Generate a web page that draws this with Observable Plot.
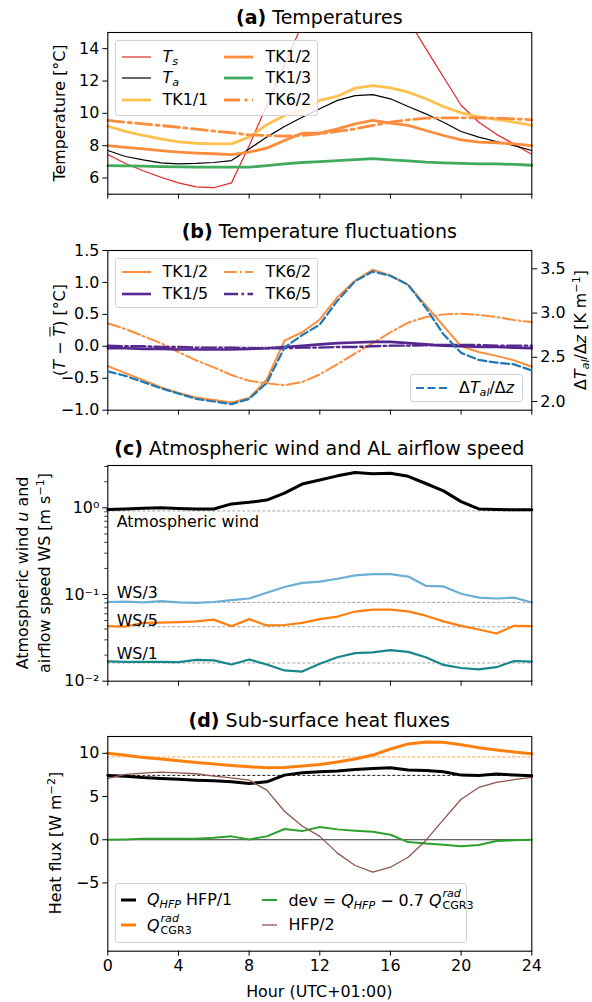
<!DOCTYPE html>
<html><head><meta charset="utf-8">
<script src="https://cdn.jsdelivr.net/npm/d3@7"></script>
<script src="https://cdn.jsdelivr.net/npm/@observablehq/plot@0.6"></script>
<style>
body{margin:0;background:#fff;}
#fig{position:relative;width:592px;height:1002px;font-family:"DejaVu Sans",sans-serif;color:#000;overflow:hidden;background:#fff;}
.abs{position:absolute;}
.title{position:absolute;font-size:19px;white-space:nowrap;transform:translate(-50%,-50%);line-height:1.2;}
.ylab{position:absolute;font-size:15.9px;white-space:nowrap;transform:translate(-50%,-50%) rotate(-90deg);line-height:1.2;}
.xlab{position:absolute;font-size:15.9px;white-space:nowrap;transform:translate(-50%,-50%);line-height:1.2;}
.legend{position:absolute;border:1px solid #d3d3d3;border-radius:3px;background:rgba(255,255,255,0.8);box-sizing:border-box;}
.item{position:absolute;font-size:15.9px;white-space:nowrap;transform:translateY(-50%);line-height:1.2;}
sub{font-size:70%;vertical-align:-0.25em;line-height:0;}
sup{font-size:70%;vertical-align:0.55em;line-height:0;}
.ss{display:inline-block;vertical-align:-0.28em;font-size:70%;line-height:1.05;margin-left:1px;}
.ss span{display:block;}
.bar{text-decoration:overline;}
</style>
</head><body><div id="fig"></div>
<script>
// ---------------- data ----------------
const hours = [0,1,2,3,4,5,6,7,8,9,10,11,12,13,14,15,16,17,18,19,20,21,22,23,24];
const xTicks = [0,4,8,12,16,20,24];

// (a) Temperatures [°C]
const Ts    = [7.45,6.9,6.45,6.05,5.7,5.45,5.4,5.7,8.0,10.5,13.0,15.5,18.0,20.0,21.0,20.5,18.5,15.8,14.0,12.25,10.5,9.45,8.7,8.1,7.45];
const Ta    = [7.7,7.33,7.12,6.94,6.88,6.9,6.96,7.08,7.8,8.53,9.19,9.76,10.28,10.8,11.1,11.16,10.9,10.42,9.97,9.45,8.88,8.53,8.26,8.0,7.7];
const TK1_1 = [9.2,8.88,8.63,8.42,8.24,8.15,8.11,8.11,8.53,9.3,9.87,10.17,10.8,11.06,11.56,11.72,11.58,11.31,10.9,10.42,10.03,9.78,9.62,9.45,9.25];
const TK1_2 = [8.0,7.9,7.8,7.7,7.6,7.54,7.5,7.45,7.6,7.85,8.32,8.77,8.77,9.04,9.35,9.56,9.39,9.25,8.94,8.63,8.36,8.22,8.18,8.11,8.0];
const TK1_3 = [6.77,6.75,6.73,6.71,6.69,6.67,6.67,6.67,6.67,6.77,6.88,6.96,7.02,7.08,7.14,7.2,7.12,7.06,6.98,6.94,6.9,6.88,6.88,6.84,6.79];
const TK6_2 = [9.56,9.45,9.35,9.25,9.14,9.02,8.9,8.8,8.67,8.63,8.59,8.63,8.73,8.88,9.04,9.25,9.45,9.6,9.7,9.72,9.72,9.72,9.7,9.66,9.6];
const yTicksA = [6,8,10,12,14];

// (b) Temperature fluctuations [°C] and gradient [K m-1]
const fTK1_2 = [-0.31,-0.42,-0.53,-0.64,-0.73,-0.80,-0.84,-0.88,-0.81,-0.52,0.09,0.22,0.42,0.77,1.03,1.2,1.11,0.96,0.64,0.32,0.0,-0.09,-0.15,-0.22,-0.32];
const fTK6_2 = [0.36,0.27,0.16,0.05,-0.09,-0.22,-0.33,-0.45,-0.54,-0.58,-0.61,-0.56,-0.44,-0.28,-0.11,0.05,0.22,0.37,0.46,0.5,0.51,0.49,0.46,0.41,0.38];
const fTK1_5 = [-0.03,-0.03,-0.04,-0.04,-0.05,-0.05,-0.05,-0.05,-0.04,-0.03,-0.01,0.01,0.03,0.05,0.06,0.07,0.07,0.05,0.03,0.01,0.0,-0.01,-0.01,-0.02,-0.03];
const fTK6_5 = [0.01,0.0,0.0,-0.01,-0.01,-0.02,-0.02,-0.02,-0.03,-0.03,-0.03,-0.02,-0.02,-0.01,-0.01,0.0,0.01,0.01,0.02,0.02,0.02,0.02,0.01,0.01,0.01];
const dTdz   = [2.34,2.29,2.22,2.15,2.09,2.03,2.00,1.97,2.03,2.21,2.61,2.75,2.87,3.14,3.36,3.47,3.42,3.32,3.06,2.76,2.55,2.47,2.44,2.42,2.35];
const yTicksB = [-1.0,-0.5,0.0,0.5,1.0,1.5];
const yTicksB2 = [2.0,2.5,3.0,3.5];

// (c) Wind and airflow speed [m s-1]
const wind = [0.96,0.97,0.99,1.0,0.98,0.97,0.97,1.11,1.16,1.23,1.48,1.88,2.1,2.34,2.56,2.47,2.5,2.31,1.91,1.57,1.18,0.97,0.96,0.95,0.95];
const WS3  = [0.082,0.083,0.081,0.084,0.081,0.080,0.082,0.086,0.090,0.105,0.122,0.136,0.141,0.152,0.166,0.172,0.172,0.161,0.126,0.124,0.102,0.092,0.090,0.092,0.081];
const WS5  = [0.0431,0.0427,0.047,0.0475,0.048,0.049,0.0513,0.0431,0.052,0.044,0.0445,0.047,0.052,0.0557,0.0636,0.067,0.067,0.064,0.057,0.049,0.0435,0.0395,0.0355,0.0435,0.0432];
const WS1  = [0.0169,0.0167,0.0167,0.0167,0.0166,0.0176,0.0174,0.0156,0.0178,0.0156,0.0133,0.0129,0.0159,0.0189,0.0211,0.0215,0.0228,0.0218,0.0189,0.0154,0.0142,0.0137,0.0145,0.0171,0.0168];
const refsC = [0.92,0.081,0.0425,0.0162];
const labelsC = ["Atmospheric wind","WS/3","WS/5","WS/1"];
const yTicksC = [0.01,0.1,1];
const yTickLabelsC = ["10\u207B\u00B2","10\u207B\u00B9","10\u2070"];
const yMinorC = [0.02,0.03,0.04,0.05,0.06,0.07,0.08,0.09,0.2,0.3,0.4,0.5,0.6,0.7,0.8,0.9,2,3];

// (d) Sub-surface heat fluxes [W m-2]
const QHFP = [7.44,7.36,7.2,7.09,7.0,6.9,6.82,6.7,6.5,6.7,7.48,7.75,7.87,7.95,8.14,8.26,8.33,8.06,8.02,7.87,7.48,7.44,7.6,7.5,7.4];
const Qrad = [10.0,9.77,9.53,9.34,9.15,8.95,8.76,8.6,8.45,8.33,8.36,8.53,8.72,8.99,9.34,9.8,10.5,11.09,11.32,11.28,11.0,10.66,10.4,10.15,9.95];
const dev  = [0.0,0.04,0.12,0.12,0.12,0.12,0.23,0.39,0.04,0.39,1.24,1.0,1.47,1.2,1.05,0.93,0.58,-0.27,-0.43,-0.58,-0.74,-0.62,-0.15,-0.05,0.0];
const HFP2 = [7.09,7.56,7.71,7.83,7.75,7.64,7.36,7.17,6.9,5.74,3.3,1.59,0.39,-1.55,-2.98,-3.76,-3.18,-2.02,-0.08,2.33,4.69,6.05,6.64,6.95,7.23];
const refQHFP = 7.45, refQrad = 9.6;
const yTicksD = [-5,0,5,10];

// ---------------- layout helpers ----------------
const fig = document.getElementById("fig");
const L = 107.3, R = 531.3, W = 592;
const baseStyle = {fontFamily:'"DejaVu Sans", sans-serif', fontSize:"15.9px", background:"transparent", overflow:"visible", color:"black"};
function mkPlot(frameTop, frameH, mb, opts, xopts = {}) {
  const mt = 20;
  const p = Plot.plot({width:W, height:mt+frameH+mb, marginLeft:L, marginRight:W-R, marginTop:mt, marginBottom:mb,
    style: baseStyle, x:{domain:[0,24], ...xopts}, ...opts});
  p.style.position = "absolute"; p.style.left = "0px"; p.style.top = (frameTop - mt) + "px";
  fig.appendChild(p);
  return p;
}
const xAxis = (show) => Plot.axisX({ticks:xTicks, tickSize:5, tickPadding:3.5, label:null, tickFormat: show ? (d => String(d)) : (() => "")});
const ln = (arr, o) => Plot.line(hours, {x:d => d, y:(d,i) => arr[i], ...o});
function html(s){ fig.insertAdjacentHTML("beforeend", s); }
function title(x, y, bold, rest){ html(`<div class="title" style="left:${x}px;top:${y}px"><b>${bold}</b> ${rest}</div>`); }
function ylab(x, y, s){ html(`<div class="ylab" style="left:${x}px;top:${y}px">${s}</div>`); }
function legend(box, items){
  html(`<div class="legend" style="left:${box[0]}px;top:${box[1]}px;width:${box[2]-box[0]}px;height:${box[3]-box[1]}px"></div>`);
  for (const it of items) {
    html(`<svg class="abs" style="left:${it.hx}px;top:${it.y-6}px;overflow:visible" width="${it.len}" height="12"><line x1="0" y1="6" x2="${it.len}" y2="6" stroke="${it.c}" stroke-width="${it.sw}" ${it.dash ? `stroke-dasharray="${it.dash}"` : ""}/></svg>`);
    html(`<div class="item" style="left:${it.lx}px;top:${it.y}px">${it.label}</div>`);
  }
}
const C = {Ts:"#e3262a", Ta:"#000", tk11:"#fec04e", tk12:"#fd8d3c", tk13:"#41ab5d", purple:"#55288f", blue:"#1f77b4",
  ws3:"#6baed6", ws5:"#ff7f0e", ws1:"#17878c", qrad:"#ff7f0e", green:"#2ca02c", brown:"#8c564b"};
const DASHA = "16,4.5,3,4.5", DASHB = "12.8,3.2,2,3.2", DASHP = "14,3.5,2.5,3.5", DASHBLUE = "8,3.5";

// ---------------- (a) ----------------
mkPlot(32.3, 161.7, 10, {
  y:{domain:[5,15]},
  marks:[
    ln(Ts, {stroke:C.Ts, strokeWidth:1.2, clip:true}),
    ln(Ta, {stroke:C.Ta, strokeWidth:1.2}),
    ln(TK1_1, {stroke:C.tk11, strokeWidth:2.8}),
    ln(TK1_2, {stroke:C.tk12, strokeWidth:2.8}),
    ln(TK1_3, {stroke:C.tk13, strokeWidth:2.8}),
    ln(TK6_2, {stroke:C.tk12, strokeWidth:2.8, strokeDasharray:DASHA}),
    Plot.axisY({ticks:yTicksA, tickSize:5, tickPadding:3.5, label:null, tickFormat:d => String(d)}),
    xAxis(false),
    Plot.frame({stroke:"black", strokeWidth:1.1})
  ]
});
title(319.3, 16.7, "(a)", "Temperatures");
ylab(60, 113, "Temperature [°C]");
legend([115.3, 40.3, 318, 116.3], [
  {hx:121.7, len:29, y:56.5, c:C.Ts, sw:1.2, lx:162.5, label:"<i>T<sub>s</sub></i>"},
  {hx:121.7, len:29, y:78.3, c:C.Ta, sw:1.2, lx:162.5, label:"<i>T<sub>a</sub></i>"},
  {hx:121.7, len:29, y:100.1, c:C.tk11, sw:2.8, lx:162.5, label:"TK1/1"},
  {hx:224, len:29, y:56.5, c:C.tk12, sw:2.8, lx:265.5, label:"TK1/2"},
  {hx:224, len:29, y:78.3, c:C.tk13, sw:2.8, lx:265.5, label:"TK1/3"},
  {hx:224, len:29, y:100.1, c:C.tk12, sw:2.8, dash:DASHA, lx:265.5, label:"TK6/2"}
]);

// ---------------- (b) ----------------
mkPlot(250, 159.7, 10, {
  y:{domain:[-1,1.5]},
  marks:[
    Plot.ruleY([0], {stroke:"#aaa", strokeWidth:1, strokeDasharray:"1.5,2"}),
    ln(fTK1_2, {stroke:C.tk12, strokeWidth:2}),
    ln(fTK6_2, {stroke:C.tk12, strokeWidth:2, strokeDasharray:DASHB}),
    ln(fTK1_5, {stroke:C.purple, strokeWidth:2.6}),
    ln(fTK6_5, {stroke:C.purple, strokeWidth:2.4, strokeDasharray:DASHP}),
    Plot.axisY({ticks:yTicksB, tickSize:5, tickPadding:3.5, label:null, tickFormat:d3.format(".1f")}),
    xAxis(false),
    Plot.frame({stroke:"black", strokeWidth:1.1})
  ]
});
mkPlot(250, 159.7, 10, {
  y:{domain:[1.902,3.707]},
  marks:[
    ln(dTdz, {stroke:C.blue, strokeWidth:2.2, strokeDasharray:DASHBLUE}),
    Plot.axisY({anchor:"right", ticks:yTicksB2, tickSize:5, tickPadding:3.5, label:null, tickFormat:d3.format(".1f")})
  ]
}, {axis:null});
title(319.3, 230.7, "(b)", "Temperature fluctuations");
ylab(60, 330, "(<i>T</i> − <i class=\"bar\">T</i>) [°C]");
ylab(581, 330, "Δ<i>T<sub>al</sub></i>/Δ<i>z</i> [K m<sup>−1</sup>]");
legend([115.3, 258, 318, 308], [
  {hx:121.7, len:29, y:271.5, c:C.tk12, sw:2, lx:162.5, label:"TK1/2"},
  {hx:121.7, len:29, y:294, c:C.purple, sw:2.6, lx:162.5, label:"TK1/5"},
  {hx:224, len:29, y:271.5, c:C.tk12, sw:2, dash:DASHB, lx:265.5, label:"TK6/2"},
  {hx:224, len:29, y:294, c:C.purple, sw:2.4, dash:DASHP, lx:265.5, label:"TK6/5"}
]);
legend([410, 374, 523.3, 401.7], [
  {hx:415.5, len:31, y:387.9, c:C.blue, sw:2.2, dash:DASHBLUE, lx:459, label:"Δ<i>T<sub>al</sub></i>/Δ<i>z</i>"}
]);

// ---------------- (c) ----------------
const labelDy = [11, -9.5, -5.5, -9.5];
mkPlot(465, 215.7, 10, {
  y:{type:"log", domain:[0.01,3.08]},
  marks:[
    Plot.ruleY(refsC, {stroke:"#999", strokeWidth:0.9, strokeDasharray:"3,2"}),
    ln(wind, {stroke:"#000", strokeWidth:3}),
    ln(WS3, {stroke:C.ws3, strokeWidth:2.2}),
    ln(WS5, {stroke:C.ws5, strokeWidth:2.2}),
    ln(WS1, {stroke:C.ws1, strokeWidth:2.2}),
    ...labelsC.map((t, i) => Plot.text([t], {x:() => 0.5, y:() => refsC[i], text:d => d, textAnchor:"start", dy:labelDy[i], fontSize:15.9, fill:"black"})),
    Plot.axisY({ticks:yTicksC, tickSize:5, tickPadding:3.5, label:null, tickFormat:d => yTickLabelsC[yTicksC.indexOf(d)]}),
    Plot.axisY({ticks:yMinorC, tickSize:3, label:null, strokeWidth:0.8, tickFormat:() => ""}),
    xAxis(false),
    Plot.frame({stroke:"black", strokeWidth:1.1})
  ]
});
title(319.3, 448.3, "(c)", "Atmospheric wind and AL airflow speed");
ylab(22.5, 573, "Atmospheric wind <i>u</i> and");
ylab(45, 573, "airflow speed WS [m s<sup>−1</sup>]");

// ---------------- (d) ----------------
mkPlot(736, 214.7, 40, {
  y:{domain:[-12.9,11.95]},
  marks:[
    Plot.ruleY([0], {stroke:"#333", strokeWidth:1}),
    Plot.ruleY([refQHFP], {stroke:"#000", strokeWidth:0.9, strokeDasharray:"3,2"}),
    Plot.ruleY([refQrad], {stroke:"#ffb46e", strokeWidth:1.2, strokeDasharray:"3,2"}),
    ln(QHFP, {stroke:"#000", strokeWidth:3}),
    ln(Qrad, {stroke:C.qrad, strokeWidth:3}),
    ln(dev, {stroke:C.green, strokeWidth:2}),
    ln(HFP2, {stroke:C.brown, strokeWidth:1.3}),
    Plot.axisY({ticks:yTicksD, tickSize:5, tickPadding:3.5, label:null, tickFormat:d3.format("d")}),
    xAxis(true),
    Plot.frame({stroke:"black", strokeWidth:1.1})
  ]
});
title(319.3, 720, "(d)", "Sub-surface heat fluxes");
ylab(56, 843.3, "Heat flux [W m<sup>−2</sup>]");
html(`<div class="xlab" style="left:319.3px;top:991.5px">Hour (UTC+01:00)</div>`);
const Qrad_html = `<i>Q</i><span class="ss"><span><i>rad</i></span><span>CGR3</span></span>`;
legend([115.3, 883.3, 467.2, 942.7], [
  {hx:120.5, len:15, y:900, c:"#000", sw:3, lx:147, label:"<i>Q<sub>HFP</sub></i> HFP/1"},
  {hx:120.5, len:15, y:925, c:C.qrad, sw:3, lx:147, label:Qrad_html},
  {hx:262, len:15, y:900, c:C.green, sw:2, lx:288.5, label:`dev = <i>Q<sub>HFP</sub></i> − 0.7 ${Qrad_html}`},
  {hx:262, len:15, y:925, c:C.brown, sw:1.3, lx:288.5, label:"HFP/2"}
]);
</script>
</body></html>
